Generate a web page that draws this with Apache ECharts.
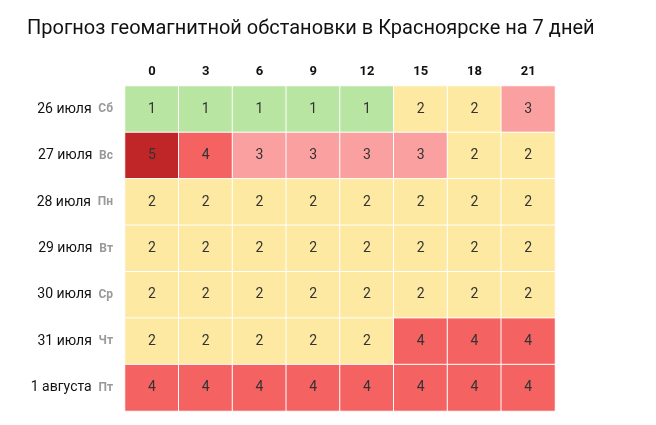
<!DOCTYPE html>
<html><head><meta charset="utf-8">
<script src="https://cdn.jsdelivr.net/npm/echarts@6/dist/echarts.min.js"></script>
<style>html,body{margin:0;padding:0;background:#fff}#c{width:656px;height:425px}</style>
</head><body><div id="c"></div>
<script>
const hours = ['0','3','6','9','12','15','18','21'];
const dates = ['26 июля','27 июля','28 июля','29 июля','30 июля','31 июля','1 августа'];
const weekdays = ['Сб','Вс','Пн','Вт','Ср','Чт','Пт'];
const values = [
  [1,1,1,1,1,2,2,3],
  [5,4,3,3,3,3,2,2],
  [2,2,2,2,2,2,2,2],
  [2,2,2,2,2,2,2,2],
  [2,2,2,2,2,2,2,2],
  [2,2,2,2,2,4,4,4],
  [4,4,4,4,4,4,4,4]
];
const colors = {1:'#b8e6a2',2:'#fde9a2',3:'#fba0a0',4:'#f56262',5:'#c02528'};
const data = [];
values.forEach((row,r)=>row.forEach((v,c)=>data.push({value:[c,r,v],itemStyle:{color:colors[v]}})));
const chart = echarts.init(document.getElementById('c'));
chart.setOption({
  animation:false,
  title:{text:'Прогноз геомагнитной обстановки в Красноярске на 7 дней',left:22,top:14,
    textStyle:{fontFamily:'Roboto',fontWeight:'normal',fontSize:20,color:'#111'}},
  grid:{left:125,right:101,top:86,bottom:14},
  xAxis:{type:'category',data:hours,position:'top',axisLine:{show:false},axisTick:{show:false},
    axisLabel:{fontFamily:'Roboto',fontWeight:'bold',fontSize:13,color:'#111',margin:8},splitLine:{show:false}},
  yAxis:{type:'category',data:dates,inverse:true,axisLine:{show:false},axisTick:{show:false},
    axisLabel:{margin:12,formatter:(v,i)=>'{d|'+v+'}  {w|'+weekdays[i]+'}',
      rich:{d:{fontFamily:'Roboto',fontSize:14,color:'#111'},w:{fontFamily:'Roboto',fontSize:12,fontWeight:'bold',color:'#999'}}}},
  series:[{type:'heatmap',data:data,
    label:{show:true,formatter:p=>p.value[2],fontFamily:'Roboto',fontSize:14,color:'#333'},
    itemStyle:{borderColor:'#fff',borderWidth:1}}]
});
</script></body></html>
